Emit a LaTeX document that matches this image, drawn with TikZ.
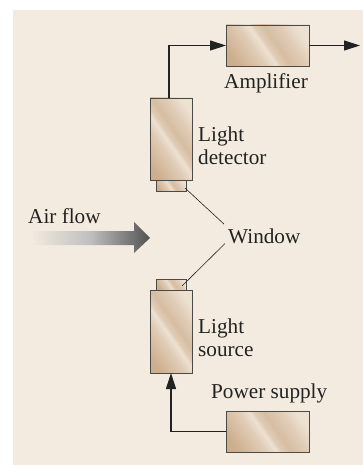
\documentclass[tikz,border=0pt]{standalone}
\usepackage{fontspec}
\setmainfont{Liberation Serif}
\usetikzlibrary{arrows.meta}
\definecolor{paper}{HTML}{F3EBDF}
\definecolor{ink}{HTML}{222222}
\definecolor{edge}{HTML}{4A4A46}
\definecolor{brassdark}{HTML}{CDAD8C}
\definecolor{brassmid}{HTML}{E0CCB6}
\definecolor{brasslight}{HTML}{EDE1D2}
\definecolor{brassband}{HTML}{D6BDA2}
\pgfdeclarehorizontalshading{brass}{100bp}{
  color(0bp)=(brassdark); color(22bp)=(brassdark); color(40bp)=(brassmid); color(47bp)=(brasslight);
  color(50bp)=(brassmid); color(56bp)=(brassband); color(66bp)=(brassmid); color(76bp)=(brasslight); color(100bp)=(brasslight)}
\tikzset{
  device/.style={draw=edge, line width=.9pt, shade, shading=brass, shading angle=35, inner sep=0pt, outer sep=0pt, anchor=north west},
  wire/.style={draw=ink, line width=1.1pt, -{Triangle[length=16pt,width=10pt]}},
  leader/.style={draw=ink, line width=.6pt},
  label/.style={text=ink, inner sep=0pt, font=\fontsize{21.2}{23}\selectfont},
}
\begin{document}
\begin{tikzpicture}[x=1pt,y=-1pt]
    \useasboundingbox (0,0) rectangle (363,465);
    \fill[paper] (13,10) rectangle (363,465);
    % air flow
    \shade[left color=paper, right color=black!68, shading angle=90, middle color=black!25] (30,231) -- (134,231) -- (134,222) -- (150,238) -- (134,253) -- (134,245) -- (30,245) -- cycle;
    \node[label, anchor=base west] (airlabel) at (28,223) {Air flow};
    % top branch
    \node[device, minimum width=83, minimum height=41] (amplifier) at (226,25) {};
    \node[device, minimum width=42, minimum height=82] (detector) at (150,98) {};
    \node[device, minimum width=30, minimum height=11] (detwindow) at (156,180) {};
    \node[label, anchor=base west] (amplabel) at (224,89) {Amplifier};
    \node[label, anchor=west, align=left] (detlabel) at (198,146) {Light\\detector};
    \coordinate (ampout) at (360,45.5);
    \draw[wire] ([xshift=-2pt]detector.north) |- (amplifier.west);
    \draw[wire] (amplifier.east) -- (ampout);
    % bottom branch
    \node[device, minimum width=30, minimum height=11] (srcwindow) at (156,279) {};
    \node[device, minimum width=42, minimum height=83] (source) at (150,290) {};
    \node[device, minimum width=83, minimum height=41] (supply) at (226,411) {};
    \node[label, anchor=west, align=left] (srclabel) at (198,338) {Light\\source};
    \node[label, anchor=base west] (supplabel) at (211,398) {Power supply};
    \draw[wire] (supply.west) -| (source.south);
    % window
    \node[label, anchor=base west] (windowlabel) at (228,243) {Window};
    \coordinate (dettip) at (185,188);
    \coordinate (srctip) at (182,286);
    \draw[leader] (dettip) -- ([xshift=-4pt,yshift=4pt]windowlabel.north west);
    \draw[leader] (srctip) -- ([xshift=-3pt]windowlabel.south west);
\end{tikzpicture}
\end{document}
